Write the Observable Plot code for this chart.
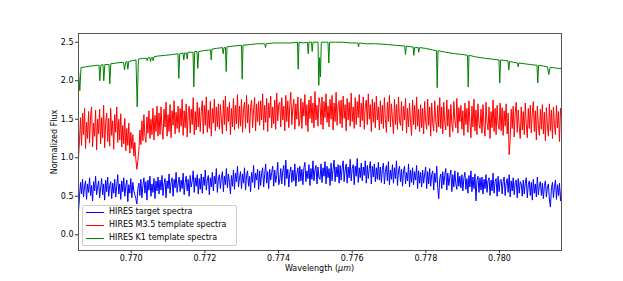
<!DOCTYPE html>
<html>
<head>
<meta charset="utf-8">
<script src="https://cdn.jsdelivr.net/npm/d3@7"></script>
<script src="https://cdn.jsdelivr.net/npm/@observablehq/plot@0.6"></script>
<style>
  html, body { margin: 0; padding: 0; background: #fff; }
  #wrap { position: relative; width: 623px; height: 281px; font-family: "DejaVu Sans", sans-serif; color: #000; }
  .lbl { position: absolute; font-size: 8px; white-space: nowrap; color: #000; }
  #legend { position: absolute; left: 82px; top: 205px; width: 155px; height: 41px; background: rgba(255,255,255,0.85); border: 1px solid #ccc; border-radius: 2px; box-sizing: border-box; }
  .row { position: absolute; left: 0; width: 150px; height: 12px; font-size: 8px; color: #000; }
  .sw { position: absolute; left: 3px; top: 5px; width: 18px; height: 1px; }
  .tx { position: absolute; left: 26px; top: 0px; white-space: nowrap; color: #000; }
</style>
</head>
<body>
<div id="wrap"></div>
<script>
// Wavelength range of the uniformly sampled spectra (micron)
const lamStart = 0.768569;
const lamEnd = 0.781683;

// Tick labels
const xTicks = [0.770, 0.772, 0.774, 0.776, 0.778, 0.780];
const yTicks = [0.0, 0.5, 1.0, 1.5, 2.0, 2.5];

// Series names
const seriesNames = ["HIRES target spectra", "HIRES M3.5 template spectra", "HIRES K1 template spectra"];
const seriesColors = ["blue", "red", "green"];

// HIRES target spectra (uniform grid)
const targetFlux = [
0.30,0.50,0.68,0.53,0.72,0.49,0.63,0.70,0.46,0.66,0.55,0.74,0.51,0.64,0.44,0.69,0.57,0.76,0.52,0.62,
0.70,0.48,0.61,0.73,0.52,0.66,0.45,0.71,0.56,0.75,0.50,0.64,0.69,0.47,0.67,0.54,0.72,0.49,0.63,0.78,
0.53,0.66,0.46,0.70,0.56,0.74,0.50,0.63,0.71,0.43,0.65,0.54,0.73,0.48,0.68,0.57,0.52,0.47,0.40,0.60,
0.67,0.51,0.72,0.48,0.64,0.74,0.54,0.69,0.45,0.71,0.58,0.76,0.50,0.66,0.55,0.73,0.47,0.70,0.57,0.75,
0.53,0.71,0.58,0.77,0.51,0.66,0.73,0.48,0.70,0.60,0.79,0.54,0.68,0.74,0.50,0.72,0.61,0.81,0.55,0.67,
0.75,0.56,0.71,0.60,0.80,0.52,0.68,0.76,0.57,0.72,0.50,0.77,0.62,0.70,0.83,0.55,0.74,0.63,0.78,0.53,
0.73,0.59,0.79,0.54,0.75,0.64,0.84,0.58,0.71,0.77,0.52,0.74,0.62,0.81,0.57,0.76,0.66,0.86,0.55,0.72,
0.78,0.60,0.74,0.82,0.56,0.76,0.65,0.86,0.61,0.79,0.68,0.53,0.77,0.63,0.84,0.59,0.80,0.69,0.89,0.62,
0.74,0.82,0.60,0.79,0.67,0.87,0.58,0.77,0.83,0.63,0.76,0.56,0.81,0.68,0.90,0.61,0.80,0.71,0.85,0.59,
0.83,0.64,0.80,0.87,0.62,0.78,0.92,0.67,0.82,0.60,0.85,0.71,0.81,0.89,0.63,0.84,0.68,0.77,0.94,0.65,
0.71,0.86,0.66,0.83,0.90,0.64,0.97,0.73,0.85,0.62,0.81,0.88,0.68,0.84,0.70,0.92,0.63,0.79,0.87,0.69,
0.89,0.70,0.85,0.65,0.87,0.94,0.69,0.83,0.73,0.91,0.64,0.86,0.72,0.96,0.70,0.84,0.90,0.66,0.88,0.74,
0.72,0.92,0.68,0.87,0.76,0.95,0.66,0.89,0.74,0.86,0.64,0.93,0.70,0.85,0.97,0.69,0.88,0.75,0.91,0.67,
0.90,0.71,0.87,0.96,0.69,0.84,0.92,0.67,0.88,0.74,0.98,0.70,0.86,0.91,0.65,0.89,0.76,0.99,0.68,0.87,
0.74,0.93,0.70,0.88,0.77,0.96,0.67,0.90,0.73,0.86,0.95,0.66,0.89,0.75,0.92,0.69,0.87,0.72,0.94,0.71,
0.88,0.68,0.85,0.93,0.66,0.82,0.90,0.70,0.95,0.65,0.84,0.72,0.91,0.67,0.87,0.73,0.96,0.64,0.83,0.89,
0.69,0.85,0.63,0.83,0.89,0.66,0.81,0.70,0.92,0.62,0.84,0.68,0.87,0.65,0.82,0.71,0.90,0.60,0.83,0.67,
0.81,0.62,0.84,0.67,0.79,0.88,0.60,0.82,0.66,0.86,0.63,0.78,0.83,0.58,0.80,0.68,0.89,0.61,0.47,0.73,
0.79,0.60,0.82,0.65,0.77,0.86,0.58,0.80,0.64,0.75,0.84,0.56,0.78,0.62,0.83,0.66,0.59,0.81,0.63,0.76,
0.61,0.78,0.57,0.74,0.81,0.59,0.73,0.54,0.77,0.62,0.83,0.56,0.75,0.60,0.79,0.44,0.71,0.76,0.55,0.74,
0.58,0.75,0.53,0.72,0.60,0.78,0.55,0.70,0.74,0.51,0.71,0.57,0.80,0.54,0.69,0.73,0.50,0.76,0.56,0.70,
0.72,0.53,0.69,0.75,0.51,0.67,0.73,0.55,0.78,0.49,0.70,0.57,0.74,0.52,0.68,0.71,0.48,0.73,0.54,0.69,
0.66,0.50,0.71,0.53,0.67,0.74,0.48,0.65,0.70,0.51,0.68,0.45,0.72,0.54,0.66,0.49,0.75,0.52,0.64,0.69,
0.51,0.67,0.47,0.64,0.70,0.49,0.62,0.66,0.45,0.36,0.61,0.68,0.48,0.63,0.71,0.46,0.65,0.51,0.67,0.44,
0.60
];

// HIRES M3.5 template spectra (uniform grid)
const m35Flux = [
1.00,1.22,1.52,1.16,1.58,1.30,1.64,1.12,1.46,1.25,1.60,1.19,1.53,1.66,1.14,1.45,1.28,1.62,1.10,1.50,
1.31,1.63,1.18,1.52,1.26,1.68,1.13,1.46,1.58,1.21,1.51,1.15,1.64,1.29,1.48,1.11,1.56,1.33,1.66,1.20,
1.50,1.23,1.57,1.14,1.42,1.18,1.51,1.09,1.38,1.16,1.45,1.06,1.33,1.12,1.30,1.02,1.20,0.98,0.85,0.96,
1.10,1.36,1.17,1.48,1.22,1.56,1.28,1.20,1.53,1.32,1.61,1.25,1.50,1.30,1.64,1.23,1.55,1.34,1.67,1.28,
1.58,1.30,1.66,1.37,1.24,1.63,1.40,1.72,1.28,1.56,1.34,1.69,1.26,1.61,1.42,1.74,1.31,1.59,1.38,1.67,
1.33,1.64,1.41,1.76,1.29,1.61,1.39,1.70,1.27,1.58,1.67,1.32,1.63,1.43,1.78,1.30,1.60,1.36,1.72,1.40,
1.65,1.34,1.60,1.74,1.31,1.68,1.42,1.79,1.33,1.62,1.38,1.73,1.28,1.64,1.45,1.76,1.35,1.66,1.40,1.70,
1.37,1.69,1.49,1.31,1.75,1.43,1.80,1.35,1.66,1.47,1.72,1.30,1.64,1.40,1.77,1.36,1.68,1.44,1.82,1.38,
1.67,1.41,1.76,1.33,1.63,1.72,1.38,1.81,1.45,1.69,1.32,1.65,1.75,1.39,1.62,1.78,1.35,1.70,1.47,1.73,
1.42,1.74,1.49,1.83,1.36,1.68,1.46,1.77,1.34,1.71,1.52,1.80,1.39,1.66,1.44,1.75,1.37,1.84,1.48,1.69,
1.72,1.40,1.78,1.49,1.67,1.35,1.81,1.47,1.74,1.39,1.69,1.85,1.43,1.65,1.76,1.37,1.70,1.50,1.79,1.41,
1.48,1.77,1.38,1.72,1.54,1.82,1.42,1.69,1.34,1.75,1.51,1.80,1.45,1.71,1.39,1.86,1.49,1.68,1.41,1.78,
1.70,1.43,1.79,1.37,1.73,1.52,1.83,1.46,1.67,1.40,1.76,1.50,1.81,1.36,1.71,1.47,1.85,1.42,1.68,1.74,
1.44,1.75,1.39,1.80,1.51,1.69,1.35,1.77,1.49,1.72,1.41,1.84,1.47,1.66,1.38,1.78,1.43,1.73,1.52,1.82,
1.40,1.71,1.48,1.79,1.37,1.67,1.75,1.43,1.83,1.50,1.69,1.34,1.76,1.46,1.72,1.39,1.80,1.49,1.66,1.36,
1.74,1.44,1.68,1.38,1.78,1.50,1.33,1.72,1.47,1.81,1.40,1.70,1.51,1.31,1.76,1.43,1.69,1.37,1.79,1.48,
1.42,1.73,1.35,1.67,1.49,1.77,1.32,1.64,1.40,1.71,1.46,1.29,1.75,1.43,1.68,1.37,1.79,1.41,1.63,1.34,
1.69,1.39,1.64,1.31,1.73,1.47,1.37,1.76,1.42,1.66,1.28,1.71,1.45,1.35,1.74,1.49,1.33,1.68,1.40,1.78,
1.38,1.66,1.31,1.72,1.46,1.36,1.75,1.41,1.63,1.27,1.69,1.44,1.34,1.73,1.48,1.39,1.77,1.32,1.65,1.47,
1.68,1.37,1.61,1.29,1.71,1.43,1.64,1.33,1.74,1.46,1.26,1.67,1.40,1.76,1.35,1.62,1.30,1.70,1.44,1.38,
1.63,1.32,1.69,1.42,1.28,1.72,1.45,1.36,1.66,1.25,1.60,1.39,1.75,1.34,1.64,1.30,1.68,1.44,1.37,1.71,
1.35,1.65,1.29,1.61,1.41,1.70,1.31,1.58,1.04,1.24,1.63,1.38,1.67,1.27,1.59,1.72,1.33,1.62,1.40,1.25,
1.66,1.36,1.60,1.30,1.71,1.43,1.26,1.64,1.38,1.68,1.32,1.58,1.73,1.34,1.61,1.23,1.67,1.42,1.29,1.63,
1.37,1.69,1.31,1.59,1.22,1.65,1.41,1.28,1.70,1.35,1.62,1.25,1.66,1.43,1.30,1.68,1.39,1.60,1.21,1.64,
1.50
];

// HIRES K1 template spectra (continuum points and absorption-line cores)
const k1Lam = [
0.768569,0.768604,0.768637,0.768759,0.768895,0.769085,0.769126,0.769147,0.769175,0.769234,
0.769256,0.769283,0.769397,0.769419,0.769446,0.769601,0.769791,0.769818,0.769851,0.769886,
0.769908,0.769935,0.770035,0.770130,0.770163,0.770195,0.770307,0.770415,0.770434,0.770456,
0.770505,0.770524,0.770546,0.770578,0.770597,0.770619,0.770714,0.770931,0.771121,0.771271,
0.771292,0.771317,0.771406,0.771428,0.771450,0.771501,0.771520,0.771542,0.771678,0.771700,
0.771724,0.771786,0.771808,0.771833,0.771963,0.772153,0.772172,0.772194,0.772316,0.772479,
0.772498,0.772520,0.772560,0.772579,0.772601,0.772777,0.772995,0.773014,0.773035,0.773239,
0.773429,0.773627,0.773646,0.773668,0.773863,0.774108,0.774325,0.774515,0.774534,0.774556,
0.774678,0.774787,0.774806,0.774827,0.774895,0.774914,0.774936,0.775072,0.775093,0.775118,
0.775139,0.775161,0.775248,0.775343,0.775365,0.775387,0.775547,0.775764,0.775954,0.776152,
0.776171,0.776193,0.776361,0.776633,0.776959,0.777176,0.777428,0.777447,0.777469,0.777583,
0.777654,0.777673,0.777694,0.777789,0.777808,0.777830,0.777990,0.778180,0.778289,0.778308,
0.778330,0.778533,0.778805,0.778995,0.779131,0.779150,0.779171,0.779348,0.779619,0.779809,
0.779986,0.780007,0.780029,0.780162,0.780230,0.780252,0.780274,0.780379,0.780488,0.780507,
0.780529,0.780678,0.780841,0.781017,0.781039,0.781061,0.781194,0.781302,0.781338,0.781370,
0.781465,0.781574,0.781683
];
const k1Flux = [
2.14,1.87,2.17,2.18,2.19,2.20,2.20,2.00,2.20,2.21,
2.00,2.21,2.21,1.96,2.22,2.23,2.24,2.14,2.24,2.25,
2.15,2.25,2.26,2.27,1.66,2.28,2.29,2.29,2.26,2.30,
2.30,2.25,2.30,2.30,2.26,2.31,2.32,2.33,2.34,2.35,
2.03,2.35,2.36,2.27,2.36,2.36,2.28,2.37,2.37,1.92,
2.38,2.38,2.16,2.38,2.39,2.40,2.27,2.41,2.42,2.43,
2.35,2.43,2.43,2.12,2.44,2.45,2.46,2.02,2.46,2.47,
2.48,2.48,2.43,2.48,2.49,2.49,2.49,2.50,2.15,2.50,
2.49,2.50,2.35,2.50,2.50,2.38,2.50,2.50,1.94,2.30,
2.05,2.50,2.50,2.50,2.23,2.50,2.50,2.50,2.49,2.49,
2.44,2.49,2.48,2.48,2.47,2.46,2.45,2.34,2.45,2.44,
2.44,2.33,2.43,2.43,2.37,2.43,2.42,2.40,2.39,1.91,
2.39,2.37,2.35,2.34,2.33,1.92,2.33,2.31,2.29,2.28,
2.27,1.97,2.27,2.26,2.26,2.14,2.25,2.24,2.23,2.18,
2.23,2.22,2.21,2.20,1.97,2.20,2.19,2.18,2.08,2.17,
2.17,2.16,2.16
];

// Build table
const rows = [];
targetFlux.forEach((f, i) => rows.push({lam: lamStart + i * (lamEnd - lamStart) / (targetFlux.length - 1), flux: f, s: seriesNames[0]}));
m35Flux.forEach((f, i) => rows.push({lam: lamStart + i * (lamEnd - lamStart) / (m35Flux.length - 1), flux: f, s: seriesNames[1]}));
k1Lam.forEach((l, i) => rows.push({lam: l, flux: k1Flux[i], s: seriesNames[2]}));

const W = 623, H = 281;
const mL = 78, mR = 62, mT = 33, mB = 31;

const chart = Plot.plot({
  width: W,
  height: H,
  marginLeft: mL,
  marginRight: mR,
  marginTop: mT,
  marginBottom: mB,
  style: {fontFamily: "DejaVu Sans, sans-serif", fontSize: "8px", color: "#000", background: "transparent", overflow: "visible"},
  x: {domain: [lamStart, lamEnd]},
  y: {domain: [-0.204, 2.613]},
  color: {domain: seriesNames, range: seriesColors},
  marks: [
    Plot.line(rows, {x: "lam", y: "flux", z: "s", stroke: "s", strokeWidth: 1, clip: true}),
    Plot.frame({stroke: "#555", strokeWidth: 1}),
    Plot.axisX({ticks: xTicks, tickFormat: d3.format(".3f"), tickSize: 3, tickPadding: 2, label: null, stroke: "#333"}),
    Plot.axisY({ticks: yTicks, tickFormat: d3.format(".1f"), tickSize: 3, tickPadding: 2, label: null, stroke: "#333"})
  ]
});

const wrap = document.getElementById("wrap");
wrap.appendChild(chart);
chart.style.position = "absolute";
chart.style.left = "0";
chart.style.top = "0";

// axis titles
const xl = document.createElement("div");
xl.className = "lbl";
xl.innerHTML = "Wavelength (<i>μm</i>)";
xl.style.left = (mL + (W - mL - mR) / 2) + "px";
xl.style.top = "264px";
xl.style.transform = "translateX(-50%)";
wrap.appendChild(xl);

const yl = document.createElement("div");
yl.className = "lbl";
yl.textContent = "Normalized Flux";
yl.style.left = "54px";
yl.style.top = (mT + (H - mT - mB) / 2) + "px";
yl.style.transform = "translate(-50%, -50%) rotate(-90deg)";
wrap.appendChild(yl);

// legend
const lg = document.createElement("div");
lg.id = "legend";
seriesNames.forEach((n, i) => {
  const r = document.createElement("div");
  r.className = "row";
  r.style.top = (1 + i * 13) + "px";
  const sw = document.createElement("div");
  sw.className = "sw";
  sw.style.background = seriesColors[i];
  const tx = document.createElement("div");
  tx.className = "tx";
  tx.textContent = n;
  r.appendChild(sw);
  r.appendChild(tx);
  lg.appendChild(r);
});
wrap.appendChild(lg);
</script>
</body>
</html>
